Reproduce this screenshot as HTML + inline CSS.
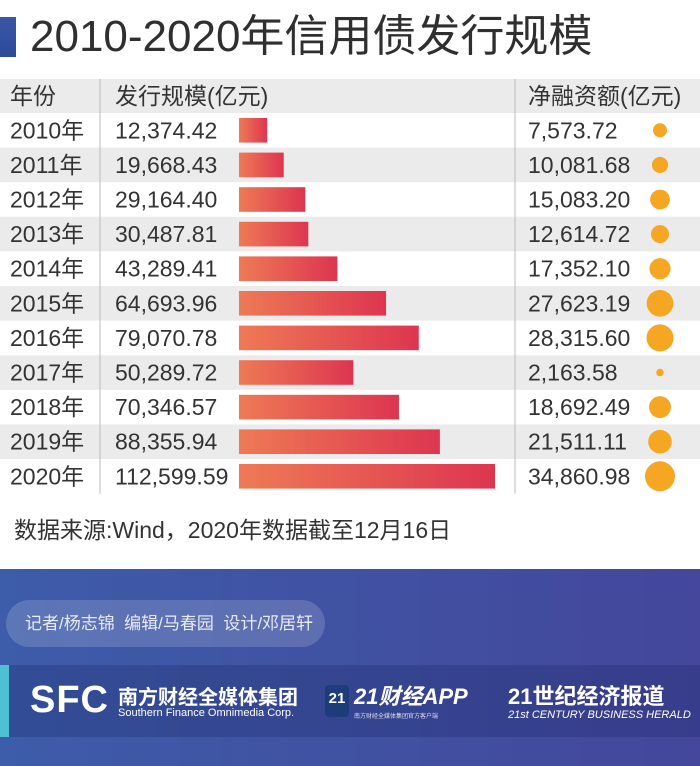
<!DOCTYPE html>
<html><head><meta charset="utf-8"><style>
body{margin:0;width:700px;height:766px;overflow:hidden;background:#fff;font-family:"Liberation Sans","Noto Sans CJK SC",sans-serif;position:relative}
.abs{position:absolute}
</style></head><body>
<div class="abs" style="left:0;top:17px;width:16px;height:40px;background:linear-gradient(#3b57a6,#2d4a9a)"></div>
<div class="abs" style="left:30px;top:10px;font-size:44px;color:#2f2f2f;line-height:54px;white-space:nowrap">2010-2020年信用债发行规模</div>
<svg id="chart" class="abs" style="left:0;top:0" width="700" height="560"></svg>
<div class="abs" style="left:14px;top:511px;font-size:23px;color:#333;white-space:nowrap">数据来源:Wind，2020年数据截至12月16日</div>
<div class="abs" style="left:0;top:569px;width:700px;height:197px;background:linear-gradient(90deg,#3d5ca9,#44479b)">
 <div class="abs" style="left:6px;top:31px;width:319px;height:47px;border-radius:24px;background:rgba(255,255,255,0.16);color:#e8eaf5;font-size:17px;line-height:47px;padding-left:19px;box-sizing:border-box;white-space:nowrap">记者/杨志锦&nbsp; 编辑/马春园&nbsp; 设计/邓居轩</div>
 <div class="abs" style="left:0;top:96px;width:700px;height:72px;background:rgba(20,30,90,0.25)">
  <div class="abs" style="left:0;top:0;width:9px;height:72px;background:#4fc0d4"></div>
  <div class="abs" style="left:30px;top:14px;color:#fff;font-size:38px;font-weight:bold;letter-spacing:1px">SFC</div>
  <div class="abs" style="left:118px;top:16px;color:#fff;font-size:20px;font-weight:bold">南方财经全媒体集团</div>
  <div class="abs" style="left:118px;top:42px;color:#fff;font-size:11px">Southern Finance Omnimedia Corp.</div>
  <div class="abs" style="left:325px;top:20px;width:24px;height:32px;background:#1d3d7a;border-radius:4px;color:#fff;font-size:15px;font-weight:bold;text-align:center;line-height:28px">21</div>
  <div class="abs" style="left:354px;top:14px;color:#fff;font-size:22px;font-weight:bold;font-style:italic">21财经APP</div>
  <div class="abs" style="left:354px;top:46px;color:#dde;font-size:6px">南方财经全媒体集团官方客户端</div>
  <div class="abs" style="left:508px;top:14px;color:#fff;font-size:22px;font-weight:bold">21世纪经济报道</div>
  <div class="abs" style="left:508px;top:44px;color:#fff;font-size:11px;font-style:italic">21st CENTURY BUSINESS HERALD</div>
 </div>
</div>
<script>
const years=["2010年","2011年","2012年","2013年","2014年","2015年","2016年","2017年","2018年","2019年","2020年"];
const issuance=[12374.42,19668.43,29164.40,30487.81,43289.41,64693.96,79070.78,50289.72,70346.57,88355.94,112599.59];
const netFinancing=[7573.72,10081.68,15083.20,12614.72,17352.10,27623.19,28315.60,2163.58,18692.49,21511.11,34860.98];
const NS="http://www.w3.org/2000/svg";
const svg=document.getElementById('chart');
const fmt=v=>v.toLocaleString('en-US',{minimumFractionDigits:2,maximumFractionDigits:2});
const rowH=34.6, top0=113;
const xBar=v=>256*v/112599.59;
const rOf=v=>15*Math.sqrt(v/34860.98);
function mk(t,a){const e=document.createElementNS(NS,t);for(const k in a)e.setAttribute(k,a[k]);svg.appendChild(e);return e;}
const defs=mk('defs',{});
defs.innerHTML='<linearGradient id="bg" x1="0" x2="1"><stop offset="0" stop-color="#ee7a55"/><stop offset="1" stop-color="#dd3550"/></linearGradient>';
let h=mk('rect',{x:0,y:79,width:700,height:34,fill:'#ebebeb'});

[["年份",10,"year-header"],["发行规模(亿元)",115,"issuance-header"],["净融资额(亿元)",528,"net-header"]].forEach(([t,x,n])=>{
 const e=mk('text',{x:x,y:104,'font-size':23,fill:'#333'});e.textContent=t;
 });
years.forEach((y,i)=>{
 const ty=top0+i*rowH;
 if(i%2==1){const bg=mk('rect',{x:0,y:ty,width:700,height:rowH,fill:'#ebebeb'});
  }
 const cy=ty+rowH/2+8;
 const a=mk('text',{x:10,y:cy,'font-size':23,fill:'#333'});a.textContent=y;
 
 const b=mk('text',{x:115,y:cy,'font-size':23,fill:'#333'});b.textContent=fmt(issuance[i]);
 
 const bar=mk('rect',{x:239,y:ty+5,width:xBar(issuance[i]),height:rowH-10,fill:'url(#bg)'});
 
 const c=mk('text',{x:528,y:cy,'font-size':23,fill:'#333'});c.textContent=fmt(netFinancing[i]);
 
 const d=mk('circle',{cx:660,cy:ty+rowH/2,r:rOf(netFinancing[i]),fill:'#f5a623'});
 
});
[100,515].forEach(x=>{const l=mk('line',{x1:x,y1:79,x2:x,y2:top0+11*rowH,stroke:'#bbb','stroke-width':1});
 });
</script>
</body></html>
